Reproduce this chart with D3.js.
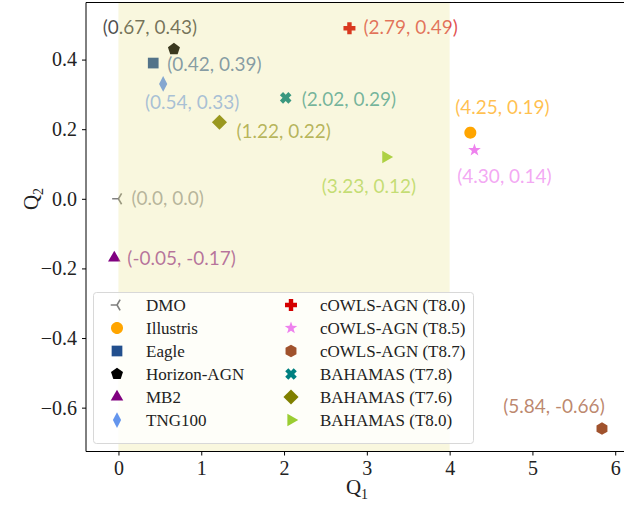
<!DOCTYPE html>
<html>
<head>
<meta charset="utf-8">
<script src="https://d3js.org/d3.v7.min.js"></script>
<style>
  body { margin: 0; background: #fff; }
  svg { display: block; }
  .axis path, .axis line { stroke: #000; }
</style>
</head>
<body>
<script>

  // data
  var names = ["DMO", "Illustris", "Eagle", "Horizon-AGN", "MB2", "TNG100",
               "cOWLS-AGN (T8.0)", "cOWLS-AGN (T8.5)", "cOWLS-AGN (T8.7)",
               "BAHAMAS (T7.8)", "BAHAMAS (T7.6)", "BAHAMAS (T8.0)"];
  var q1 = [0.0, 4.25, 0.42, 0.67, -0.05, 0.54, 2.79, 4.30, 5.84, 2.02, 1.22, 3.23];
  var q2 = [0.0, 0.19, 0.39, 0.43, -0.17, 0.33, 0.49, 0.14, -0.66, 0.29, 0.22, 0.12];
  var labels = ["(0.0, 0.0)", "(4.25, 0.19)", "(0.42, 0.39)", "(0.67, 0.43)", "(-0.05, -0.17)",
                "(0.54, 0.33)", "(2.79, 0.49)", "(4.30, 0.14)", "(5.84, -0.66)",
                "(2.02, 0.29)", "(1.22, 0.22)", "(3.23, 0.12)"];
  var xTicks = [0, 1, 2, 3, 4, 5, 6];
  var yTicks = [-0.6, -0.4, -0.2, 0.0, 0.2, 0.4];

  // styles
  var colors = ["#808080", "#ffa500", "#224f8e", "#000000", "#800080", "#6495ed",
                "#d40000", "#ee82ee", "#a0522d", "#008080", "#808000", "#9acd32"];
  var shapes = ["tri_left", "circle", "square", "pentagon", "triangle_up", "thin_diamond",
                "plus", "star", "hexagon", "x", "diamond", "triangle_right"];
  // label placement relative to the marker: dx, dy, anchor
  var labelPos = [[13, 0, "start"], [32, -25, "middle"], [14, 1, "start"], [-24, -22, "middle"],
                  [13, 0, "start"], [29, 18, "middle"], [14, -1, "start"], [30, 26, "middle"],
                  [-48, -22, "middle"], [16, 1, "start"], [17, 9, "start"], [-17, 29, "middle"]];

  var SERIF = "'Liberation Serif', 'DejaVu Serif', serif";
  var SANS = "Lato, 'Open Sans', sans-serif";

  var W = 624, H = 505;
  var plot = {left: 86, right: 624, top: 2.5, bottom: 451.5};

  var x = d3.scaleLinear().domain([-0.392, 6.106]).range([plot.left, plot.right]);
  var y = d3.scaleLinear().domain([-0.726, 0.564]).range([plot.bottom, plot.top]);

  var svg = d3.select("body").append("svg")
      .attr("width", W)
      .attr("height", H);

  // marker shapes
  function poly(n, r, rot) {
    var pts = [];
    for (var i = 0; i < n; i++) {
      var a = rot + i * 2 * Math.PI / n;
      pts.push([r * Math.cos(a), r * Math.sin(a)]);
    }
    return "M" + pts.join("L") + "Z";
  }
  function markerPath(type, s) {
    var r = s;
    switch (type) {
      case "circle": return poly(40, r * 0.95, 0);
      case "square": return "M" + [[-r*0.85,-r*0.85],[r*0.85,-r*0.85],[r*0.85,r*0.85],[-r*0.85,r*0.85]].join("L") + "Z";
      case "pentagon": return poly(5, r, -Math.PI / 2);
      case "hexagon": return poly(6, r, -Math.PI / 2);
      case "triangle_up": return poly(3, r * 1.15, -Math.PI / 2);
      case "triangle_right": return poly(3, r * 1.15, 0);
      case "diamond": return poly(4, r * 1.2, 0);
      case "thin_diamond": return "M0," + (-r*1.25) + "L" + (r*0.65) + ",0L0," + (r*1.25) + "L" + (-r*0.65) + ",0Z";
      case "star": {
        var pts = [];
        for (var i = 0; i < 10; i++) {
          var rr = i % 2 ? r * 0.42 : r * 1.05;
          var a = -Math.PI / 2 + i * Math.PI / 5;
          pts.push([rr * Math.cos(a), rr * Math.sin(a)]);
        }
        return "M" + pts.join("L") + "Z";
      }
      case "plus":
      case "x": {
        var a = r * 0.95, b = r * 0.35;
        var p = [[-b,-a],[b,-a],[b,-b],[a,-b],[a,b],[b,b],[b,a],[-b,a],[-b,b],[-a,b],[-a,-b],[-b,-b]];
        if (type === "x") {
          var c = Math.SQRT1_2;
          p = p.map(function(q) { return [(q[0] - q[1]) * c, (q[0] + q[1]) * c]; });
        }
        return "M" + p.join("L") + "Z";
      }
      case "tri_left": {
        var t = r * 1.0;
        return "M0,0L" + (-t) + ",0M0,0L" + (t*0.5) + "," + (-t*0.866) + "M0,0L" + (t*0.5) + "," + (t*0.866);
      }
    }
  }
  function drawMarker(g, i, s) {
    var p = g.append("path").attr("d", markerPath(shapes[i], s));
    if (shapes[i] === "tri_left") {
      p.attr("fill", "none").attr("stroke", colors[i]).attr("stroke-width", 1.6);
    } else {
      p.attr("fill", colors[i]);
    }
  }

  // points and annotations
  var idx = d3.range(names.length);
  var pts = svg.append("g").selectAll("g")
      .data(idx)
    .enter().append("g")
      .attr("transform", function(i) { return "translate(" + x(q1[i]) + "," + y(q2[i]) + ")"; });
  pts.each(function(i) { drawMarker(d3.select(this), i, 6.3); });
  pts.append("text")
      .attr("x", function(i) { return labelPos[i][0]; })
      .attr("y", function(i) { return labelPos[i][1]; })
      .attr("dy", "0.35em")
      .attr("text-anchor", function(i) { return labelPos[i][2]; })
      .style("font-family", SANS)
      .style("font-size", "19px")
      .attr("fill", function(i) { return colors[i]; })
      .attr("fill-opacity", 0.7)
      .text(function(i) { return labels[i]; });

  // shaded band (drawn over the markers)
  svg.append("rect")
      .attr("x", x(0))
      .attr("y", plot.top)
      .attr("width", x(4) - x(0))
      .attr("height", plot.bottom - plot.top)
      .attr("fill", "#e8df7c")
      .attr("fill-opacity", 0.25);

  // axes
  var fmt = function(d) { return d === 0 ? "0.0" : d3.format(".1f")(d).replace("-", "\u2212"); };
  var gx = svg.append("g")
      .attr("class", "axis")
      .attr("transform", "translate(0," + plot.bottom + ")")
      .call(d3.axisBottom(x).tickValues(xTicks).tickFormat(d3.format("d")).tickSize(4).tickPadding(5))
      .call(function(g) { g.select(".domain").attr("d", "M" + plot.left + ",0H" + plot.right); });
  var gy = svg.append("g")
      .attr("class", "axis")
      .attr("transform", "translate(" + plot.left + ",0)")
      .call(d3.axisLeft(y).tickValues(yTicks).tickFormat(fmt).tickSize(4).tickPadding(5))
      .call(function(g) { g.select(".domain").attr("d", "M0," + plot.top + "V" + plot.bottom); });
  [gx, gy].forEach(function(g) {
    g.selectAll(".tick text")
        .style("font-family", SERIF)
        .style("font-size", "20px")
        .attr("fill", "#222");
  });
  svg.append("line")
      .attr("x1", plot.left).attr("x2", plot.right)
      .attr("y1", plot.top).attr("y2", plot.top)
      .attr("stroke", "#000");

  // axis titles
  var xt = svg.append("text")
      .attr("x", 357).attr("y", 494)
      .attr("text-anchor", "middle")
      .style("font-family", SERIF).style("font-size", "21px").attr("fill", "#222");
  xt.append("tspan").text("Q");
  xt.append("tspan").attr("dy", 5).style("font-size", "14px").text("1");
  var yt = svg.append("text")
      .attr("transform", "translate(38,199) rotate(-90)")
      .attr("text-anchor", "middle")
      .style("font-family", SERIF).style("font-size", "21px").attr("fill", "#222");
  yt.append("tspan").text("Q");
  yt.append("tspan").attr("dy", 5).style("font-size", "14px").text("2");

  // legend
  var leg = svg.append("g");
  leg.append("rect")
      .attr("x", 93.5).attr("y", 292.5)
      .attr("width", 380).attr("height", 151)
      .attr("rx", 3)
      .attr("fill", "#fff").attr("fill-opacity", 0.8)
      .attr("stroke", "#d8d8d8");
  var items = leg.selectAll(".item")
      .data(idx)
    .enter().append("g")
      .attr("class", "item")
      .attr("transform", function(i) {
        var col = i < 6 ? 0 : 1, row = i % 6;
        return "translate(" + (col ? 291 : 117) + "," + (305 + row * 23) + ")";
      });
  items.each(function(i) { drawMarker(d3.select(this), i, 6.3); });
  items.append("text")
      .attr("x", 29)
      .attr("dy", "0.35em")
      .style("font-family", SERIF)
      .style("font-size", "17px")
      .attr("fill", "#222")
      .text(function(i) { return names[i]; });

</script>
</body>
</html>
